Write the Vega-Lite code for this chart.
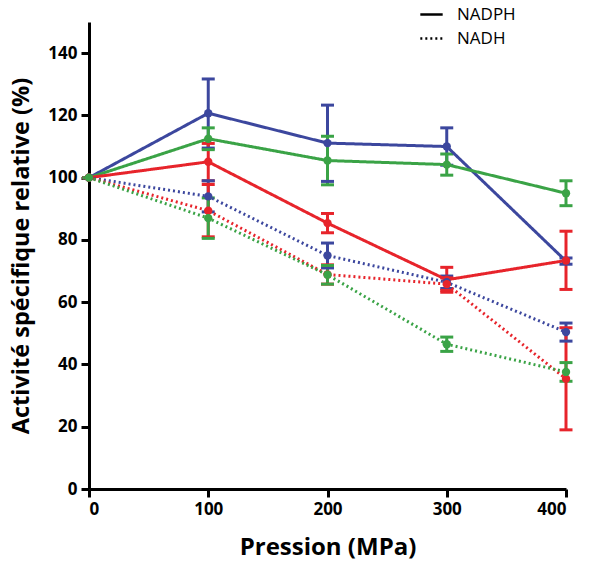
{
  "$schema": "https://vega.github.io/schema/vega-lite/v6.json",
  "autosize": {"type": "none"},
  "width": 477,
  "height": 467,
  "padding": {"left": 89, "top": 22, "right": 26, "bottom": 81},
  "config": {
    "view": {"stroke": null},
    "font": "Open Sans"
  },
  "data": {
    "values": [
      {"series": "blue", "type": "NADPH", "x": 0, "y": 100, "lo": 100, "hi": 100},
      {"series": "blue", "type": "NADPH", "x": 100, "y": 120.7, "lo": 109.5, "hi": 131.7},
      {"series": "blue", "type": "NADPH", "x": 200, "y": 111.1, "lo": 98.8, "hi": 123.3},
      {"series": "blue", "type": "NADPH", "x": 300, "y": 110, "lo": 104, "hi": 116},
      {"series": "blue", "type": "NADPH", "x": 400, "y": 73.2, "lo": 72.2, "hi": 74.2},
      {"series": "green", "type": "NADPH", "x": 0, "y": 100, "lo": 100, "hi": 100},
      {"series": "green", "type": "NADPH", "x": 100, "y": 112.5, "lo": 109, "hi": 116},
      {"series": "green", "type": "NADPH", "x": 200, "y": 105.5, "lo": 97.7, "hi": 113.3},
      {"series": "green", "type": "NADPH", "x": 300, "y": 104.2, "lo": 100.8, "hi": 107.6},
      {"series": "green", "type": "NADPH", "x": 400, "y": 95, "lo": 91, "hi": 99},
      {"series": "red", "type": "NADPH", "x": 0, "y": 100, "lo": 100, "hi": 100},
      {"series": "red", "type": "NADPH", "x": 100, "y": 105.1, "lo": 99, "hi": 111},
      {"series": "red", "type": "NADPH", "x": 200, "y": 85.4, "lo": 82.3, "hi": 88.5},
      {"series": "red", "type": "NADPH", "x": 300, "y": 67.2, "lo": 63.2, "hi": 71.2},
      {"series": "red", "type": "NADPH", "x": 400, "y": 73.4, "lo": 64.1, "hi": 82.8},
      {"series": "blue", "type": "NADH", "x": 0, "y": 100, "lo": 100, "hi": 100},
      {"series": "blue", "type": "NADH", "x": 100, "y": 94, "lo": 89, "hi": 99},
      {"series": "blue", "type": "NADH", "x": 200, "y": 75, "lo": 71, "hi": 79},
      {"series": "blue", "type": "NADH", "x": 300, "y": 66.4, "lo": 64.4, "hi": 68.4},
      {"series": "blue", "type": "NADH", "x": 400, "y": 50.4, "lo": 47.5, "hi": 53.3},
      {"series": "red", "type": "NADH", "x": 0, "y": 100, "lo": 100, "hi": 100},
      {"series": "red", "type": "NADH", "x": 100, "y": 89.4, "lo": 81, "hi": 97.8},
      {"series": "red", "type": "NADH", "x": 200, "y": 68.9, "lo": 65.8, "hi": 72},
      {"series": "red", "type": "NADH", "x": 300, "y": 65.8, "lo": 63.8, "hi": 67.8},
      {"series": "red", "type": "NADH", "x": 400, "y": 35.4, "lo": 19, "hi": 51.8},
      {"series": "green", "type": "NADH", "x": 0, "y": 100, "lo": 100, "hi": 100},
      {"series": "green", "type": "NADH", "x": 100, "y": 87, "lo": 80.5, "hi": 93.5},
      {"series": "green", "type": "NADH", "x": 200, "y": 68.8, "lo": 65.8, "hi": 71.8},
      {"series": "green", "type": "NADH", "x": 300, "y": 46.5, "lo": 44.2, "hi": 48.8},
      {"series": "green", "type": "NADH", "x": 400, "y": 37.6, "lo": 34.6, "hi": 40.6}
    ]
  },
  "encoding": {
    "x": {
      "field": "x", "type": "quantitative",
      "scale": {"domain": [0, 400], "nice": false},
      "axis": {
        "values": [0, 100, 200, 300, 400],
        "title": "Pression (MPa)",
        "titleFontSize": 24, "titleFontWeight": "bold", "titleColor": "black",
        "titlePadding": 18,
        "labelFontSize": 17, "labelFontWeight": "bold", "labelColor": "black",
        "labelPadding": 4,
        "domainColor": "black", "domainWidth": 3,
        "tickColor": "black", "tickWidth": 3, "tickSize": 8,
        "grid": false
      }
    },
    "y": {
      "field": "y", "type": "quantitative",
      "scale": {"domain": [0, 150], "nice": false},
      "axis": {
        "values": [0, 20, 40, 60, 80, 100, 120, 140],
        "title": "Activité spécifique relative (%)",
        "titleFontSize": 23.5, "titleFontWeight": "bold", "titleColor": "black",
        "titlePadding": 14,
        "labelFontSize": 17, "labelFontWeight": "bold", "labelColor": "black",
        "labelPadding": 4,
        "domainColor": "black", "domainWidth": 3,
        "tickColor": "black", "tickWidth": 3, "tickSize": 8,
        "grid": false
      }
    },
    "color": {
      "field": "series", "type": "nominal",
      "scale": {"domain": ["blue", "green", "red"], "range": ["#3c479e", "#3aa346", "#e7242b"]},
      "legend": null
    }
  },
  "layer": [
    {
      "mark": {"type": "rule", "strokeWidth": 3, "opacity": 1},
      "encoding": {"y": {"field": "lo", "type": "quantitative"}, "y2": {"field": "hi"}}
    },
    {
      "mark": {"type": "tick", "orient": "horizontal", "thickness": 3, "size": 13, "opacity": 1},
      "encoding": {"y": {"field": "lo", "type": "quantitative"}}
    },
    {
      "mark": {"type": "tick", "orient": "horizontal", "thickness": 3, "size": 13, "opacity": 1},
      "encoding": {"y": {"field": "hi", "type": "quantitative"}}
    },
    {
      "mark": {"type": "line", "strokeWidth": 3, "strokeCap": "butt"},
      "encoding": {
        "detail": {"field": "type"},
        "strokeDash": {
          "field": "type", "type": "nominal",
          "scale": {"domain": ["NADPH", "NADH"], "range": [[1, 0], [2, 3]]},
          "legend": {
            "title": null,
            "orient": "none",
            "legendX": 330,
            "legendY": -20,
            "symbolType": "stroke",
            "symbolStrokeColor": "black",
            "symbolStrokeWidth": 2.5,
            "symbolSize": 500,
            "labelFontSize": 17,
            "labelColor": "black",
            "labelFont": "Open Sans",
            "rowPadding": 3,
            "labelOffset": 13
          }
        }
      }
    },
    {
      "mark": {"type": "point", "filled": true, "opacity": 1, "size": 70, "shape": "circle"}
    }
  ]
}
